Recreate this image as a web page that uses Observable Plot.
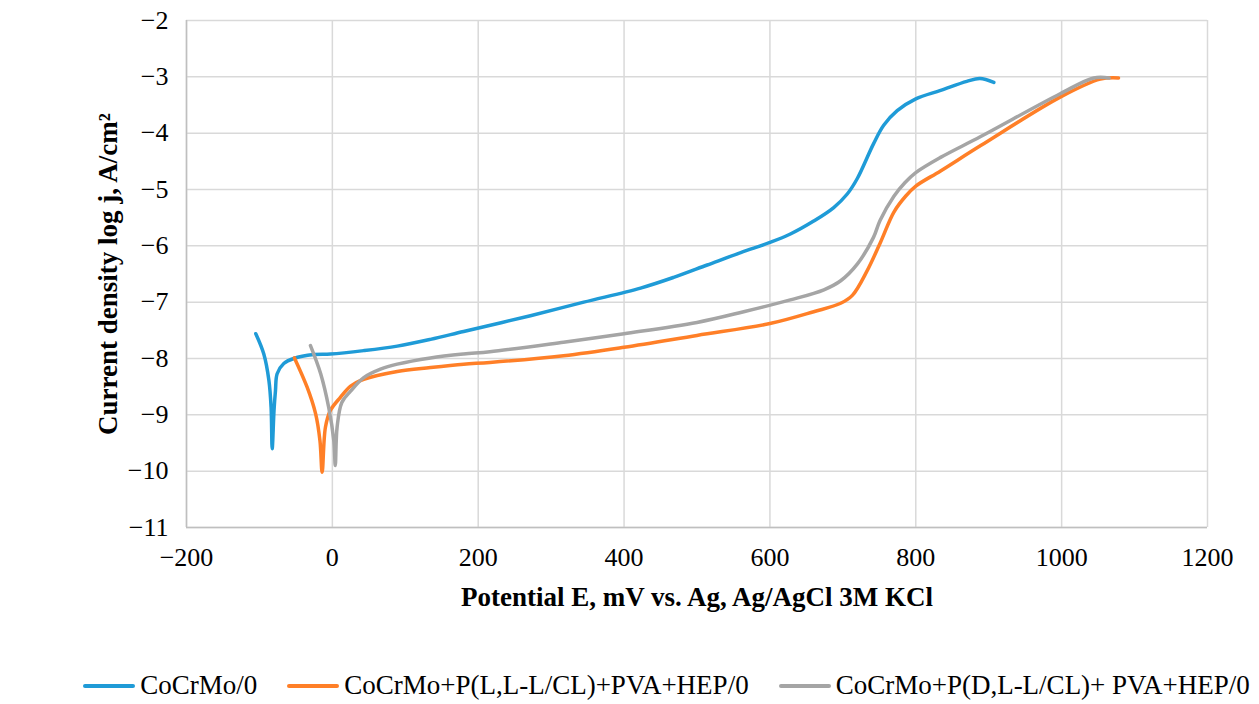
<!DOCTYPE html>
<html>
<head>
<meta charset="utf-8">
<script src="https://cdn.jsdelivr.net/npm/d3@7"></script>
<script src="https://cdn.jsdelivr.net/npm/@observablehq/plot@0.6"></script>
<style>
  body { margin: 0; background: #fff; }
  #chart svg, #chart svg text { font-family: "Liberation Serif", "Times New Roman", serif !important; }
  #legend { display: flex; justify-content: center; align-items: center; gap: 30px; width: 1259px; box-sizing: border-box; padding-left: 74px;
    font-family: "Liberation Serif", "Times New Roman", serif; font-size: 27px; color: #000; margin-top: 30px; }
  .item { display: flex; align-items: center; }
  .sw { width: 52px; height: 4px; margin-right: 5px; border-radius: 2px; }
</style>
</head>
<body>
<div id="chart"></div>
<div id="legend"></div>
<script>
const seriesNames = ["CoCrMo/0", "CoCrMo+P(L,L-L/CL)+PVA+HEP/0", "CoCrMo+P(D,L-L/CL)+ PVA+HEP/0"];
const seriesColors = ["#1f9bd7", "#ff7f27", "#a5a5a5"];

const blueE = [-105, -94, -87, -84, -82.5, -80, -78, -75.7, -66.6, -53, -25.5, -2.6, 43, 89, 134.5, 180, 271.6, 344.7, 422.6, 468, 514, 560, 600, 628, 660, 687.5, 706, 720, 742, 756, 774.5, 800, 834, 870, 888, 907];
const blueJ = [-7.56, -7.92, -8.39, -8.87, -9.6, -8.92, -8.57, -8.27, -8.09, -8.0, -7.93, -7.92, -7.86, -7.78, -7.66, -7.52, -7.24, -7.0, -6.75, -6.56, -6.34, -6.12, -5.94, -5.79, -5.56, -5.32, -5.08, -4.8, -4.19, -3.86, -3.6, -3.39, -3.24, -3.08, -3.03, -3.1];

const orangeE = [-52, -34.6, -23, -17, -14, -9.5, -2.6, 11, 25, 43, 89, 134.5, 180, 216, 317, 400, 500, 600, 660, 697, 713, 733, 751.5, 770, 786, 800, 834, 889, 998, 1053, 1078];
const orangeJ = [-7.99, -8.51, -8.98, -9.46, -10.02, -9.22, -8.92, -8.69, -8.49, -8.37, -8.23, -8.16, -8.1, -8.07, -7.95, -7.8, -7.59, -7.38, -7.17, -7.02, -6.88, -6.45, -5.94, -5.4, -5.12, -4.94, -4.67, -4.22, -3.36, -3.04, -3.02];

const grayE = [-30, -16, -5, 2, 4, 6.5, 13, 25, 43, 66, 89, 134.5, 180, 216, 317, 400, 500, 564, 628, 674, 697, 720, 742, 751, 770, 785, 800, 834, 889, 998, 1044, 1065];
const grayJ = [-7.77, -8.27, -8.87, -9.46, -9.9, -9.22, -8.78, -8.58, -8.34, -8.19, -8.1, -7.99, -7.92, -7.88, -7.71, -7.56, -7.36, -7.17, -6.96, -6.78, -6.62, -6.32, -5.85, -5.55, -5.12, -4.88, -4.7, -4.43, -4.06, -3.3, -3.02, -3.02];

const xTicks = [-200, 0, 200, 400, 600, 800, 1000, 1200];
const yTicks = [-11, -10, -9, -8, -7, -6, -5, -4, -3, -2];

const xLabel = "Potential E, mV vs. Ag, Ag/AgCl 3M KCl";
const yLabel = "Current density log j, A/cm²";

const rows = [];
[[blueE, blueJ], [orangeE, orangeJ], [grayE, grayJ]].forEach(([E, J], i) => {
  E.forEach((e, k) => rows.push({series: seriesNames[i], E: e, J: J[k]}));
});

const fmt = d => String(d).replace("-", "\u2212");

const chart = Plot.plot({
  width: 1259,
  height: 640,
  marginLeft: 186,
  marginRight: 52,
  marginTop: 20,
  marginBottom: 113,
  style: {fontSize: "26px", fontFamily: "'Liberation Serif', 'Times New Roman', serif", color: "#000", background: "#fff"},
  x: {domain: [-200, 1200]},
  y: {domain: [-11, -2]},
  color: {domain: seriesNames, range: seriesColors},
  marks: [
    Plot.gridX(xTicks, {stroke: "#d9d9d9", strokeOpacity: 1, strokeWidth: 1.5}),
    Plot.gridY(yTicks, {stroke: "#d9d9d9", strokeOpacity: 1, strokeWidth: 1.5}),
    Plot.ruleY([-11], {stroke: "#bfbfbf", strokeWidth: 1.5}),
    Plot.ruleX([-200], {stroke: "#bfbfbf", strokeWidth: 1.5}),
    Plot.axisX(xTicks, {tickSize: 0, tickPadding: 20, tickFormat: fmt, label: null, fontSize: 26}),
    Plot.axisY(yTicks, {tickSize: 0, tickPadding: 18, tickFormat: fmt, label: null, fontSize: 26}),
    Plot.text([xLabel], {frameAnchor: "bottom", dy: 70, textAnchor: "middle", lineAnchor: "middle", fontSize: 27, fontWeight: "bold", fill: "#000"}),
    Plot.text([yLabel], {frameAnchor: "left", dx: -78, rotate: -90, textAnchor: "middle", lineAnchor: "middle", fontSize: 27, fontWeight: "bold", fill: "#000"}),
    Plot.line(rows, {x: "E", y: "J", z: "series", stroke: "series", strokeWidth: 3.5, curve: "catmull-rom"})
  ]
});
document.getElementById("chart").appendChild(chart);

const legend = document.getElementById("legend");
seriesNames.forEach((name, i) => {
  const item = document.createElement("div");
  item.className = "item";
  const sw = document.createElement("div");
  sw.className = "sw";
  sw.style.background = seriesColors[i];
  const t = document.createElement("span");
  t.textContent = name;
  item.appendChild(sw);
  item.appendChild(t);
  legend.appendChild(item);
});
</script>
</body>
</html>
